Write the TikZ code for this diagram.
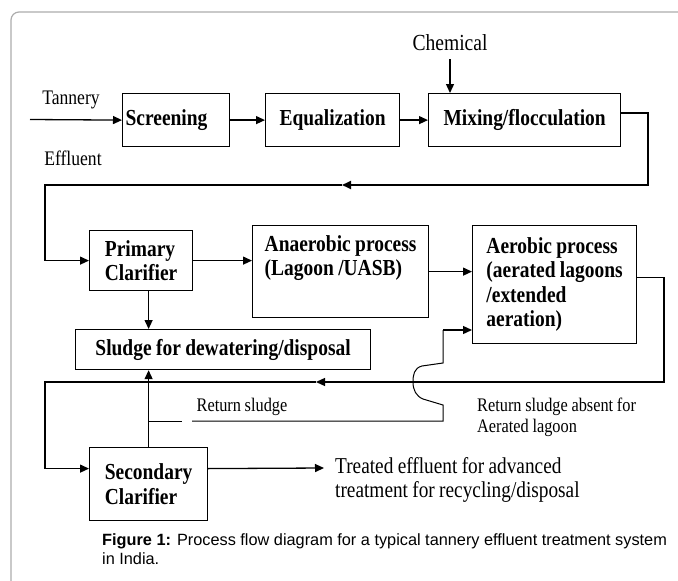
\documentclass[tikz,border=0pt]{standalone}
\usepackage{fontspec}
\setmainfont{Liberation Serif}[FakeStretch=0.85, WordSpace=0.9]
\newfontfamily\capfont{Liberation Sans}
\usetikzlibrary{arrows.meta}
\newcommand{\boxfont}{\bfseries\fontsize{22.9}{24.5}\selectfont}
\newcommand{\lblfont}{\fontsize{20.7}{24}\selectfont}
\begin{document}
\begin{tikzpicture}[x=1pt,y=-1pt,
	box/.style={draw, line width=1.2pt, inner sep=0pt, font=\boxfont, align=center, anchor=north west},
	lbl/.style={inner sep=0pt, font=\lblfont},
	arr/.style={line width=1.3pt, -{Triangle[length=9pt,width=8pt]}},
	rsl/.style={line width=1pt}]
	\path[use as bounding box] (0,0) rectangle (678,581);
	\clip (0,0) rectangle (678,581);
	\draw[gray!65, line width=1.2pt, rounded corners=8pt] (11,640) -- (11,12) -- (720,12);
	% boxes
	\node[box, align=left, text width=101pt, inner xsep=3pt, minimum height=53pt] (screen) at (122,93) {Screening};
	\node[box, minimum width=134pt, minimum height=53pt] (equal) at (265,93) {Equalization};
	\node[box, minimum width=192pt, minimum height=53pt] (mix) at (428,93) {Mixing/flocculation};
	\node[box, align=left, minimum width=103pt, minimum height=60pt] (prim) at (89,230) {Primary\\Clarifier};
	\node[box, align=left, minimum width=176pt, minimum height=92pt] (anaer) at (252,225) {Anaerobic process\\(Lagoon /UASB)\\\strut};
	\node[box, align=left, minimum width=164pt, minimum height=118pt] (aer) at (472,225) {Aerobic process\\(aerated lagoons\\/extended\\aeration)};
	\node[box, minimum width=295pt, minimum height=40pt] (sludge) at (75,329) {Sludge for dewatering/disposal};
	\node[box, align=left, minimum width=118pt, minimum height=73pt] (sec) at (89,447) {Secondary\\Clarifier};
	% labels
	\node[lbl] (tan) at (71,100) {Tannery};
	\node[lbl] (eff) at (73,158) {Effluent};
	\node[lbl, font=\fontsize{23}{26}\selectfont] (chem) at (450,43) {Chemical};
	\node[lbl, font=\fontsize{22.7}{24}\selectfont, align=left, anchor=west] (treated) at (335,480) {Treated effluent for advanced\\treatment for recycling/disposal};
	\node[lbl, font=\fontsize{19.2}{21}\selectfont] (rslbl) at (242,407) {Return sludge};
	\node[lbl, font=\fontsize{19.2}{21}\selectfont, align=left, anchor=west] (absent) at (477,417.5) {Return sludge absent for\\Aerated lagoon};
	% first row
	\coordinate (feed) at (30,119.5);
	\draw[arr] (feed) -- (screen.west);
	\draw[arr] (screen) -- (equal);
	\draw[arr] (equal) -- (mix);
	\draw[arr] ([yshift=-8pt]chem.south) -- (chem.south |- mix.north);
	% back to the primary clarifier
	\coordinate (r1) at (648,185);
	\coordinate (m1) at (342,185);
	\coordinate (l1) at (45,185);
	\draw[arr, line width=2pt] ([yshift=7pt]mix.east) -| (r1) -- (m1);
	\draw[arr] (m1) -- (l1) |- (prim.west);
	% second row
	\draw[arr] (prim.east) -- (prim.east -| anaer.west);
	\draw[arr] (anaer.east) -- (anaer.east -| aer.west);
	\draw[arr] (prim.south -| sec.north) -- (sec.north |- sludge.north);
	% aerobic outlet to the secondary clarifier
	\coordinate (r2) at (664,382);
	\coordinate (m2) at (316,382);
	\coordinate (l2) at (45,382);
	\draw[arr] ([yshift=7pt]aer.east) -| (r2) -- (m2);
	\draw[arr] (m2) -- (l2) |- ([yshift=15.5pt]sec.west);
	\coordinate (out) at (324,468);
	\draw[arr] ([yshift=15.5pt]sec.east) -- (out);
	% return sludge
	\coordinate (rj) at (148,421);
	\coordinate (gl) at (182,421);
	\coordinate (gr) at (192,421);
	\coordinate (rb) at (443,421);
	\coordinate (rt) at (443,330);
	\draw[arr] (sec.north) -- (sec.north |- sludge.south);
	\draw[rsl] (rj) -- (gl);
	\draw[rsl] (gr) -- (rb) -- (443,405) -- (423,399) .. controls (416,396) and (413,390) .. (413,382)
		.. controls (413,375) and (414,368) .. (422,366) -- (443,363) -- (rt);
	\draw[arr] (rt) -- (rt -| aer.west);
	% caption
	\node[anchor=north west, inner sep=0pt, align=left, font=\capfont\fontsize{16.3}{19}\selectfont] (cap) at (102,533) {\textbf{Figure 1:} Process flow diagram for a typical tannery effluent treatment system\\in India.};
\end{tikzpicture}
\end{document}
